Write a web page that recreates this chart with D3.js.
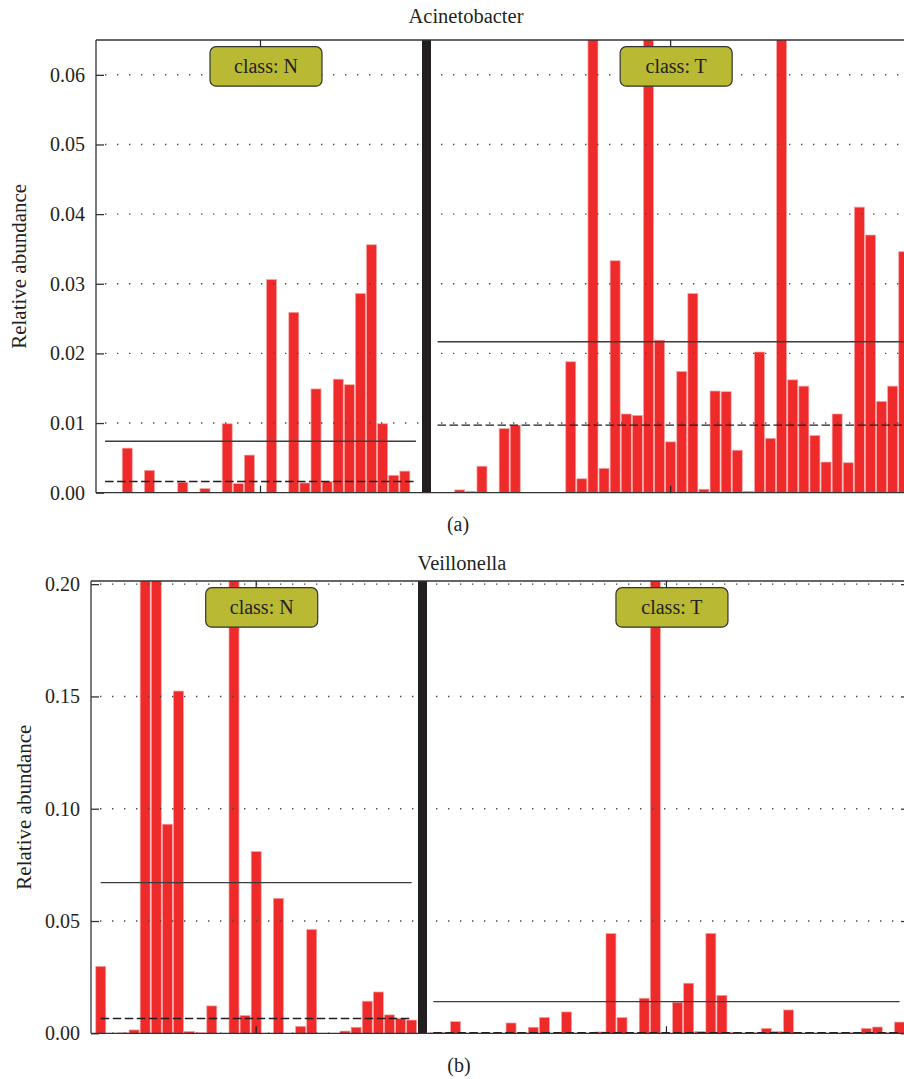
<!DOCTYPE html>
<html>
<head>
<meta charset="utf-8">
<script src="https://cdn.jsdelivr.net/npm/d3@7"></script>
<style>
  body { margin: 0; background: #fff; }
  svg { display: block; }
  svg text { font-family: "Liberation Serif", Tinos, "Times New Roman", serif; fill: #231f20; }
</style>
</head>
<body>
<svg id="chart" width="904" height="1079" font-family="Liberation Serif, Tinos, Times New Roman, serif"></svg>
<script>
// Per-sample relative abundance, grouped by class (N, T)
const classes = ["N", "T"];

const acinetoN = [0, 0, 0.0064, 0, 0.0032, 0, 0, 0.0015, 0, 0.0006, 0, 0.0099, 0.0013, 0.0054, 0,
  0.0306, 0, 0.0259, 0.0014, 0.0149, 0.0016, 0.0163, 0.0155, 0.0286, 0.0356, 0.0099, 0.0025, 0.0031, 0];

const acinetoT = [0, 0, 0.0004, 0.0002, 0.0038, 0, 0.0092, 0.0097, 0, 0, 0, 0, 0.0188, 0.0020, 0.172,
  0.0035, 0.0333, 0.0113, 0.0111, 0.195, 0.0219, 0.0073, 0.0174, 0.0286, 0.0005, 0.0146, 0.0145, 0.0061,
  0.0002, 0.0202, 0.0078, 0.122, 0.0162, 0.0153, 0.0082, 0.0044, 0.0113, 0.0043, 0.0410, 0.0370, 0.0131,
  0.0153, 0.0346];

const veillN = [0.0298, 0, 0.0002, 0.0015, 0.612, 0.418, 0.0931, 0.1524, 0.0008, 0.0002, 0.0122, 0, 0.370,
  0.0079, 0.0809, 0, 0.0601, 0, 0.0031, 0.0462, 0, 0, 0.0010, 0.0027, 0.0143, 0.0184, 0.0082, 0.0066, 0.0059];

const veillT = [0.0002, 0.0003, 0.0052, 0, 0, 0, 0, 0.0046, 0.0002, 0.0027, 0.0071, 0, 0.0095, 0, 0,
  0.0006, 0.0444, 0.0070, 0, 0.0156, 0.386, 0, 0.0138, 0.0223, 0.0008, 0.0445, 0.0169, 0.0003, 0, 0.0002,
  0.0022, 0.0008, 0.0104, 0, 0, 0, 0, 0.0001, 0.0002, 0.0022, 0.0028, 0.0002, 0.0050];

const acinetoTicks = [0, 0.01, 0.02, 0.03, 0.04, 0.05, 0.06];
const veillTicks = [0, 0.05, 0.10, 0.15, 0.20];

const FONT = "Liberation Serif, Tinos, Times New Roman, serif";

const panels = [
  { id: "a", title: "Acinetobacter", tag: "(a)", series: [acinetoN, acinetoT], ticks: acinetoTicks, ymax: 0.065,
    left: 96, right: 913, top: 40, bottom: 492.7,
    facets: [[99.5, 421.5], [432, 909.3]], sep: 426.5,
    titleX: 466, titleY: 23, tagX: 458, tagY: 531, labelX: 26 },
  { id: "b", title: "Veillonella", tag: "(b)", series: [veillN, veillT], ticks: veillTicks, ymax: 0.2014,
    left: 91, right: 909, top: 581, bottom: 1033.3,
    facets: [[95.2, 417.2], [427.8, 905.1]], sep: 422.5,
    titleX: 462, titleY: 570, tagX: 459, tagY: 1072, labelX: 31 }
];

const svg = d3.select("#chart");
const defs = svg.append("defs");
const fmt = d3.format(".2f");

panels.forEach(p => {
  const g = svg.append("g").attr("font-family", FONT);
  const y = d3.scaleLinear().domain([0, p.ymax]).range([p.bottom, p.top]);

  defs.append("clipPath").attr("id", "clip-" + p.id)
    .append("rect")
    .attr("x", p.left).attr("y", p.top)
    .attr("width", p.right - p.left).attr("height", p.bottom - p.top);

  const plot = g.append("g").attr("clip-path", `url(#clip-${p.id})`);

  // bars for each class
  const facetInfo = p.series.map((vals, fi) => {
    const x = d3.scaleBand().domain(d3.range(vals.length))
      .range(p.facets[fi]).paddingInner(0.1).paddingOuter(0.05);
    plot.append("g").selectAll("rect").data(vals).join("rect")
      .attr("x", (d, i) => x(i))
      .attr("width", x.bandwidth())
      .attr("y", d => y(d))
      .attr("height", d => p.bottom - y(d))
      .attr("fill", "#ee2a2a")
      .attr("stroke", "#f7a3a3")
      .attr("stroke-width", 0.7);
    const x0 = x(0) + x.bandwidth() / 2;
    const x1 = x(vals.length - 1) + x.bandwidth() / 2;
    return { x0, x1, mean: d3.mean(vals), median: d3.median(vals) };
  });

  // dotted grid at each tick
  plot.append("g").selectAll("line").data(p.ticks).join("line")
    .attr("x1", p.left + 9).attr("x2", p.right)
    .attr("y1", d => y(d)).attr("y2", d => y(d))
    .attr("stroke", "#4a4a4a").attr("stroke-width", 1.4)
    .attr("stroke-dasharray", "1.4,10.6");

  // mean (solid) and median (dashed) per class
  facetInfo.forEach(f => {
    plot.append("line")
      .attr("x1", f.x0).attr("x2", f.x1)
      .attr("y1", y(f.mean)).attr("y2", y(f.mean))
      .attr("stroke", "#3c3c3c").attr("stroke-width", 1.4);
    plot.append("line")
      .attr("x1", f.x0).attr("x2", f.x1)
      .attr("y1", y(f.median)).attr("y2", y(f.median))
      .attr("stroke", "#1e1e1e").attr("stroke-width", 1.4)
      .attr("stroke-dasharray", "8.5,3.5");
  });

  // thick separator between the classes
  g.append("rect")
    .attr("x", p.sep - 4.5).attr("y", p.top)
    .attr("width", 9).attr("height", p.bottom - p.top)
    .attr("fill", "#231f20");

  // frame
  const frame = g.append("g").attr("stroke", "#333").attr("stroke-width", 1.3).attr("fill", "none");
  frame.append("line").attr("x1", p.left).attr("x2", p.right).attr("y1", p.top).attr("y2", p.top);
  frame.append("line").attr("x1", p.left).attr("x2", p.right).attr("y1", p.bottom).attr("y2", p.bottom);
  frame.append("line").attr("x1", p.left).attr("x2", p.left).attr("y1", p.top).attr("y2", p.bottom);
  frame.append("line").attr("x1", p.right).attr("x2", p.right).attr("y1", p.top).attr("y2", p.bottom);

  // y axes with inward ticks
  const axL = g.append("g").attr("transform", `translate(${p.left},0)`)
    .call(d3.axisLeft(y).tickValues(p.ticks).tickFormat(fmt).tickSizeInner(-8).tickSizeOuter(0).tickPadding(11));
  axL.select(".domain").remove();
  axL.attr("font-family", FONT).attr("font-size", 20);
  axL.selectAll(".tick line").attr("stroke", "#333").attr("stroke-width", 1.3);
  axL.selectAll(".tick text").attr("fill", "#231f20").attr("font-family", FONT);

  const axR = g.append("g").attr("transform", `translate(${p.right},0)`)
    .call(d3.axisRight(y).tickValues(p.ticks).tickFormat("").tickSizeInner(-8).tickSizeOuter(0));
  axR.select(".domain").remove();
  axR.selectAll(".tick line").attr("stroke", "#333").attr("stroke-width", 1.3);

  // class centre ticks and labels
  facetInfo.forEach((f, fi) => {
    const cx = (f.x0 + f.x1) / 2;
    g.append("line").attr("x1", cx).attr("x2", cx).attr("y1", p.top).attr("y2", p.top + 7)
      .attr("stroke", "#222").attr("stroke-width", 1.2);
    g.append("line").attr("x1", cx).attr("x2", cx).attr("y1", p.bottom).attr("y2", p.bottom - 7)
      .attr("stroke", "#222").attr("stroke-width", 1.2);
    const bx = cx + 5.5;
    g.append("rect")
      .attr("x", bx - 56).attr("y", p.top + 6.7)
      .attr("width", 112).attr("height", 39.5)
      .attr("rx", 6).attr("ry", 6)
      .attr("fill", "#b9b933").attr("stroke", "#333").attr("stroke-width", 1.2);
    g.append("text")
      .attr("x", bx).attr("y", p.top + 32.5)
      .attr("text-anchor", "middle").attr("font-size", 20)
      .text("class: " + classes[fi]);
  });

  // titles and labels
  g.append("text").attr("x", p.titleX).attr("y", p.titleY)
    .attr("text-anchor", "middle").attr("font-size", 20.5).text(p.title);
  g.append("text").attr("x", p.tagX).attr("y", p.tagY)
    .attr("text-anchor", "middle").attr("font-size", 20).text(p.tag);
  g.append("text")
    .attr("transform", `translate(${p.labelX},${(p.top + p.bottom) / 2}) rotate(-90)`)
    .attr("text-anchor", "middle").attr("font-size", 21).text("Relative abundance");
});
</script>
</body>
</html>
